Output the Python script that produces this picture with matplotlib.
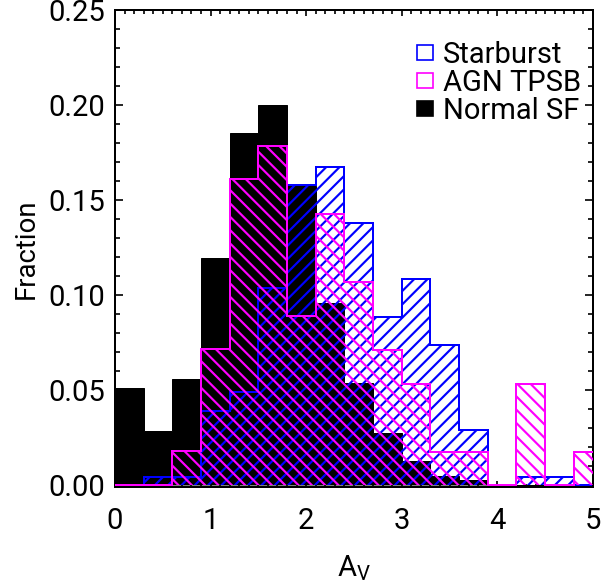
import matplotlib
matplotlib.use("Agg")
import matplotlib.pyplot as plt
from matplotlib.patches import Patch
from matplotlib.ticker import MultipleLocator
import numpy as np

# bin edges of A_V (width 0.3)
edges = np.arange(0, 5.11, 0.3)

normal_sf = [0.051, 0.0286, 0.0558, 0.1196, 0.1854, 0.200, 0.1575, 0.096,
             0.0535, 0.0275, 0.0128, 0.0047, 0.0026, 0.0, 0.0, 0.0, 0.0]
starburst = [0.0, 0.0044, 0.0044, 0.039, 0.049, 0.1035, 0.1577, 0.1675,
             0.1377, 0.0882, 0.1083, 0.0737, 0.029, 0.0, 0.0044, 0.0044, 0.0]
agn_tpsb = [0.0, 0.0, 0.0179, 0.0714, 0.161, 0.1786, 0.0891, 0.1426,
            0.107, 0.071, 0.0532, 0.0175, 0.0175, 0.0, 0.0532, 0.0, 0.0175]

labels = ["Starburst", "AGN TPSB", "Normal SF"]

plt.rcParams["font.family"] = ["Roboto", "DejaVu Sans"]
plt.rcParams["mathtext.fontset"] = "custom"
plt.rcParams["mathtext.rm"] = "Roboto"
plt.rcParams["mathtext.it"] = "Roboto"
plt.rcParams["hatch.linewidth"] = 1.3
plt.rcParams["axes.linewidth"] = 1.2

fig = plt.figure(figsize=(602 / 120, 586 / 120), dpi=120)
ax = fig.add_axes([0.191, 0.169, 0.794, 0.814])

ax.stairs(normal_sf, edges, fill=True, facecolor="black", edgecolor="black",
          linewidth=0.6, zorder=1)
ax.stairs(starburst, edges, fill=True, facecolor="none", edgecolor="blue",
          hatch="///", linewidth=1.2, zorder=2)
ax.stairs(agn_tpsb, edges, fill=True, facecolor="none", edgecolor="magenta",
          hatch="\\\\\\", linewidth=1.2, zorder=3)

ax.set_xlim(0, 5)
ax.set_ylim(-0.0011, 0.25)
ax.xaxis.set_major_locator(MultipleLocator(1))
ax.xaxis.set_minor_locator(MultipleLocator(0.1))
ax.yaxis.set_major_locator(MultipleLocator(0.05))
ax.yaxis.set_minor_locator(MultipleLocator(0.01))
ax.yaxis.set_major_formatter(plt.FuncFormatter(lambda v, p: "%.2f" % v))

ax.tick_params(which="both", direction="in", top=True, right=True, width=1.0)
ax.tick_params(axis="x", which="major", length=3.6, pad=12, labelsize=17.5)
ax.tick_params(axis="x", which="minor", length=2.1)
ax.tick_params(axis="y", which="major", length=4.8, pad=6, labelsize=17.5)
ax.tick_params(axis="y", which="minor", length=3.0)

ax.set_xlabel(r"$\mathrm{A_V}$", fontsize=17.5, labelpad=11)
ax.set_ylabel("Fraction", fontsize=16.5, labelpad=5)

handles = [Patch(facecolor="none", edgecolor="blue", linewidth=1.0),
           Patch(facecolor="none", edgecolor="magenta", linewidth=1.0),
           Patch(facecolor="black", edgecolor="black", linewidth=1.0)]
ax.legend(handles, labels, loc="upper left", bbox_to_anchor=(0.632, 0.935),
          frameon=False, fontsize=17.5, handlelength=0.55, handleheight=0.38,
          handletextpad=0.35, labelspacing=0.0, borderpad=0, borderaxespad=0)

plt.savefig("out.png", dpi=120)
